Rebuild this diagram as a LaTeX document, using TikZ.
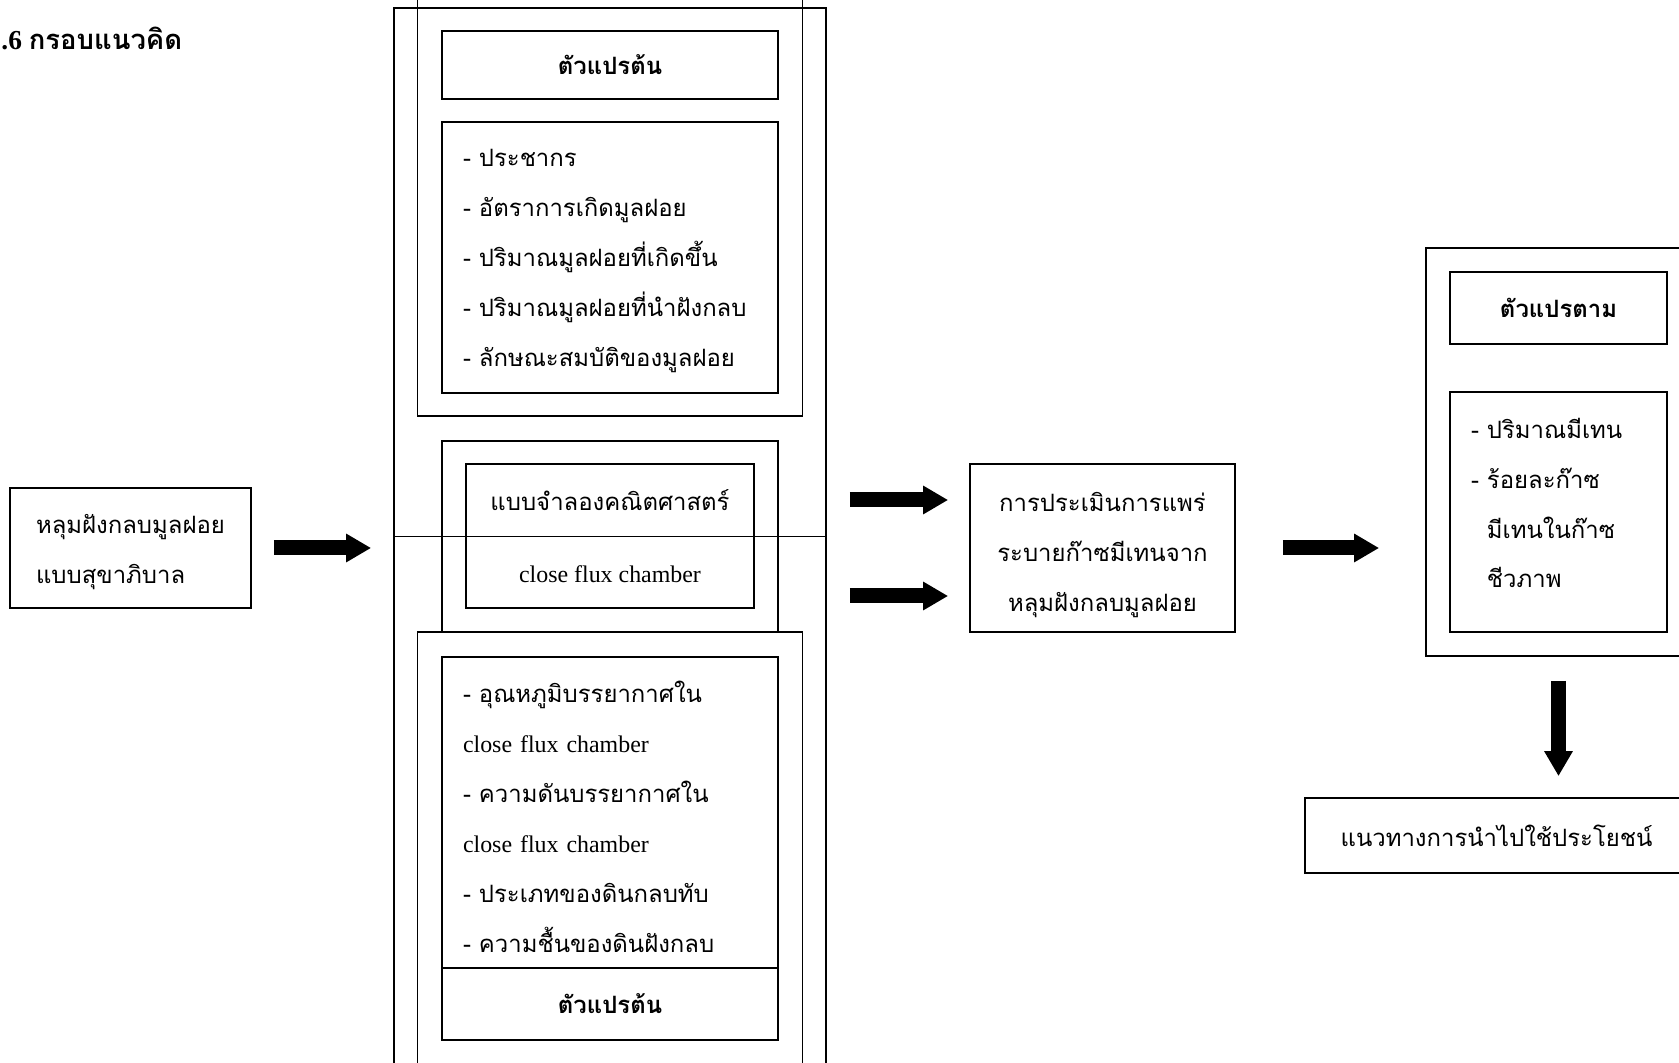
\documentclass[tikz,border=0pt]{standalone}
\usepackage{fontspec}
\setmainfont{Liberation Serif}
\newfontfamily\thai[Script=Thai]{Loma}
\usetikzlibrary{arrows.meta}

\begin{document}
\begin{tikzpicture}
\tikzset{panel/.style = {draw, line width=1.3pt, inner sep=0pt}}
\tikzset{box/.style = {draw, line width=1.3pt, minimum width=8.4cm, inner sep=0pt, font=\thai\fontsize{17}{35.5}\selectfont}}
\tikzset{head/.style = {box, font=\thai\bfseries\fontsize{17}{20}\selectfont}}
\tikzset{list/.style = {box, align=left, inner xsep=0.525cm, text width=7.35cm}}
\tikzset{bigarrow/.style = {line width=0.375cm, -{Triangle[length=0.625cm, width=0.675cm]}}}
\useasboundingbox (0,0) rectangle (41.975,26.55);

% Define the boxes of the middle column
\node[anchor=west, inner sep=0pt, font=\bfseries\fontsize{19.5}{22}\selectfont] (title) at (0.03,25.6) {.6 {\thai กรอบแนวคิด}};
\node[panel, minimum width=10.8cm, minimum height=26.675cm] (col) at (15.25,13.0125) {};
\node[panel, minimum width=9.625cm, minimum height=10.65cm] (upper) at (15.25,21.475) {};
\node[head, minimum height=1.7cm] (indep1) at (15.25,24.925) {ตัวแปรต้น};
\node[list, minimum height=6.775cm] (list1) at (15.25,20.1125) {\rule{0pt}{0.6cm}- ประชากร\\- อัตราการเกิดมูลฝอย\\- ปริมาณมูลฝอยที่เกิดขึ้น\\- ปริมาณมูลฝอยที่นำฝังกลบ\\- ลักษณะสมบัติของมูลฝอย};
\node[box, minimum height=4.775cm] (midbox) at (15.25,13.1375) {};
\draw[line width=1.3pt] (col.west |- midbox.center) -- (col.east |- midbox.center);
\node[box, minimum width=7.2cm, minimum height=3.6cm, align=center, font=\thai\fontsize{17}{51}\selectfont] (model) at (15.25,13.15) {แบบจำลองคณิตศาสตร์\\{\rmfamily close flux chamber}};
\node[panel, minimum width=9.625cm, minimum height=11.2cm] (lower) at (15.25,5.15) {};
\node[list, minimum height=7.775cm] (list2) at (15.25,6.2375) {\rule{0pt}{0.75cm}- อุณหภูมิบรรยากาศใน\\{\rmfamily close flux chamber}\\- ความดันบรรยากาศใน\\{\rmfamily close flux chamber}\\- ประเภทของดินกลบทับ\\- ความชื้นของดินฝังกลบ};
\node[head, minimum height=1.8cm] (indep2) at (15.25,1.45) {ตัวแปรต้น};

% Define the side boxes
\node[box, minimum width=6.025cm, minimum height=3cm, align=left] (pit) at (3.2625,12.85) {\rule{0pt}{0.7cm}หลุมฝังกลบมูลฝอย\\แบบสุขาภิบาล};
\node[box, minimum width=6.625cm, minimum height=4.2cm, align=center] (eval) at (27.5625,12.85) {\rule{0pt}{0.85cm}การประเมินการแพร่\\ระบายก๊าซมีเทนจาก\\หลุมฝังกลบมูลฝอย};
\node[panel, minimum width=6.625cm, minimum height=10.2cm] (dep) at (38.9625,15.25) {};
\node[head, minimum width=5.425cm, minimum height=1.8cm] (deptitle) at (38.9625,18.85) {ตัวแปรตาม};
\node[list, minimum width=5.425cm, text width=4.375cm, minimum height=6cm] (list3) at (38.9625,13.75) {- ปริมาณมีเทน\\- ร้อยละก๊าซ\\\phantom{- }มีเทนในก๊าซ\\\phantom{- }ชีวภาพ\rule[-0.45cm]{0pt}{0pt}};
\node[box, minimum width=9.575cm, minimum height=1.875cm] (use) at (37.4125,5.6625) {แนวทางการนำไปใช้ประโยชน์};
\coordinate (in1) at ([yshift=1.2cm]eval.west);
\coordinate (in2) at ([yshift=-1.2cm]eval.west);

% Draw the block arrows
\draw[bigarrow, shorten <=0.55cm, shorten >=0.55cm] (pit.east) -- (pit.east -| col.west);
\draw[bigarrow, shorten <=0.575cm, shorten >=0.525cm] (in1 -| col.east) -- (in1);
\draw[bigarrow, shorten <=0.575cm, shorten >=0.525cm] (in2 -| col.east) -- (in2);
\draw[bigarrow, shorten <=1.175cm, shorten >=1.15cm] (eval.east) -- (eval.east -| dep.west);
\draw[bigarrow, shorten <=0.6cm, shorten >=0.525cm] (dep.south) -- (dep.south |- use.north);

\end{tikzpicture}
\end{document}
